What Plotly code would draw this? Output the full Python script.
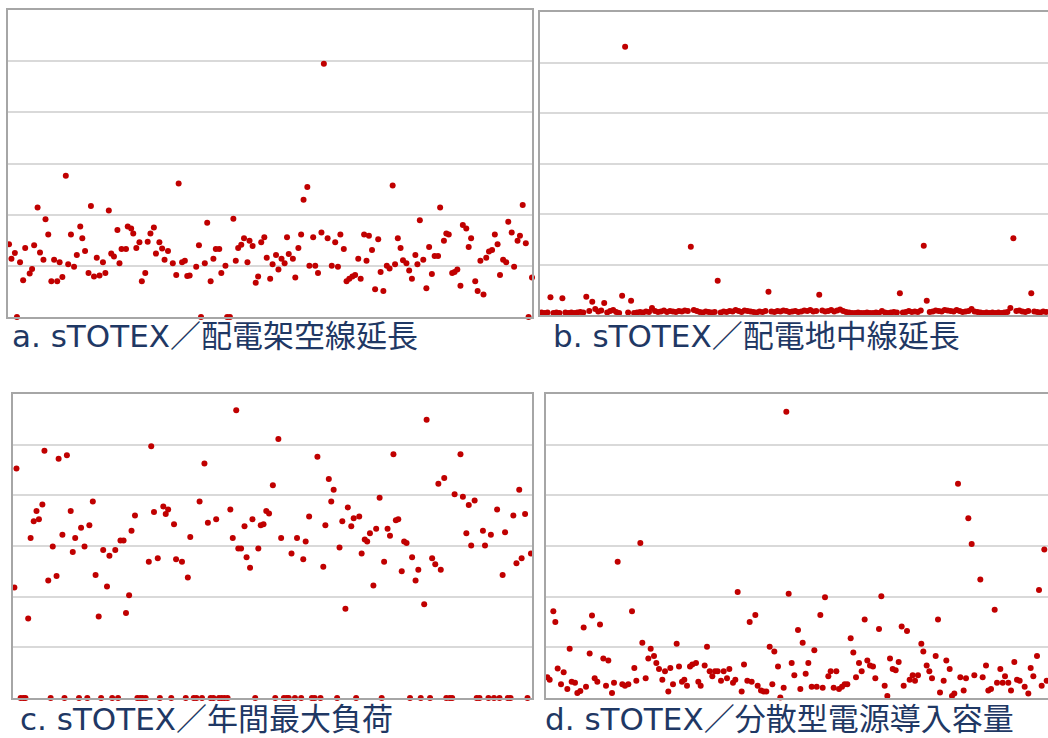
import plotly.graph_objects as go

# a. sTOTEX / 配電架空線延長
a_x = [0.3, 1.0, 2.0, 2.6, 3.5, 4.4, 5.0, 6.3, 7.0, 7.6, 8.6, 9.3, 10.3, 10.9, 11.7, 12.6, 13.4, 14.3, 15.0, 15.8,
       16.8, 17.5, 18.3, 19.2, 20.0, 21.0, 21.6, 22.4, 23.4, 24.1, 25.0, 25.8, 26.6, 27.6, 28.3, 29.3, 30.0, 30.8, 31.8, 32.4,
       33.0, 34.3, 34.8, 35.8, 36.4, 37.3, 38.2, 38.9, 39.9, 40.6, 41.4, 42.4, 43.0, 44.0, 44.8, 45.5, 46.5, 47.9, 48.9, 49.6,
       50.6, 51.4, 52.1, 52.8, 54.7, 55.5, 56.1, 57.2, 57.9, 58.9, 59.7, 60.4, 61.4, 62.0, 63.2, 63.7, 64.5, 65.5, 66.2, 66.9,
       67.8, 68.6, 69.6, 70.2, 71.1, 72.0, 72.7, 73.6, 74.5, 75.2, 76.2, 76.9, 77.9, 78.6, 79.5, 80.4, 81.1, 81.6, 82.8, 83.5,
       84.4, 85.2, 85.9, 87.0, 87.6, 88.7, 89.3, 90.1, 91.1, 91.8, 92.9, 94.1, 95.1, 95.9, 96.6, 97.6, 98.4, 99.2, 100.1, 100.9,
       101.8, 102.5, 103.5, 104.2, 104.9, 105.8, 106.7, 107.6, 108.3, 109.1, 110.1, 110.9, 111.8, 112.5, 113.3, 114.1, 114.8, 115.8, 116.6, 117.4,
       118.4, 119.0, 119.7, 120.7, 121.6, 122.4, 123.2, 124.0, 125.0, 125.6, 126.7, 127.4, 128.1, 129.1, 129.8, 130.6, 131.5, 132.2, 133.2, 133.9,
       134.6, 135.8, 136.5, 137.3, 138.2, 139.0, 139.8, 140.7, 141.5, 142.3, 143.0, 143.9, 144.8, 145.4, 146.4, 147.1, 148.1, 148.8, 149.6, 150.5,
       151.3, 152.3]
a_y = [1.42, 1.14, 1.25, 0, 1.07, 0.72, 1.35, 0.85, 0.94, 1.40, 2.14, 1.26, 1.12, 1.91, 1.61, 0.70, 1.12, 0.70, 1.07, 0.78,
       2.76, 1.03, 1.61, 0.98, 1.21, 1.77, 1.54, 1.29, 0.86, 2.17, 0.79, 1.16, 0.81, 1.07, 0.86, 2.08, 1.24, 1.18, 1.70, 1.05,
       1.33, 1.33, 1.77, 1.73, 1.63, 1.35, 1.46, 0.70, 0.86, 1.47, 1.63, 1.75, 1.24, 1.46, 1.34, 1.12, 1.29, 1.05, 0.82, 2.61,
       1.07, 1.10, 0.80, 0.81, 0.98, 1.40, 0, 1.05, 1.84, 0.70, 1.14, 1.33, 1.33, 0.86, 1.00, 0, 0, 1.92, 1.10, 1.35,
       1.41, 1.54, 1.07, 1.49, 1.39, 0.67, 0.79, 1.46, 1.56, 1.16, 0.75, 1.03, 1.21, 0.93, 1.14, 1.05, 1.56, 1.23, 1.14, 0.77,
       1.35, 1.61, 2.29, 2.54, 1.00, 1.56, 1.00, 0.86, 1.65, 4.95, 1.54, 1.00, 1.46, 0.98, 1.61, 1.33, 0.70, 0.75, 0.79, 0.82,
       1.14, 0.75, 1.61, 1.10, 1.59, 1.31, 0.54, 1.52, 0.88, 0.51, 1.00, 0.95, 2.57, 1.03, 1.54, 1.35, 1.11, 1.05, 0.91, 0.75,
       1.21, 1.03, 1.89, 1.12, 0.56, 1.37, 0.84, 1.19, 1.19, 2.14, 1.49, 1.63, 1.61, 0.86, 0.88, 0.93, 0.61, 1.80, 1.73, 1.37,
       1.54, 0.70, 0.51, 1.10, 0.44, 1.16, 1.28, 1.31, 1.61, 1.42, 0.82, 1.12, 1.07, 1.86, 1.65, 0.98, 1.49, 1.59, 2.19, 1.44,
       0, 0.77]

# b. sTOTEX / 配電地中線延長 (sample index 1..170)
b_y = [0.05, 0.04, 0.05, 0.35, 0.04, 0.05, 0.04, 0.33, 0.05, 0.04,
       0.05, 0.04, 0.05, 0.06, 0.05, 0.36, 0.08, 0.26, 0.12, 0.07,
       0.09, 0.24, 0.05, 0.08, 0.10, 0.06, 0.04, 0.38, 5.31, 0.05,
       0.28, 0.04, 0.05, 0.06, 0.05, 0.07, 0.06, 0.14, 0.08, 0.06,
       0.07, 0.09, 0.06, 0.08, 0.07, 0.06, 0.08, 0.07, 0.09, 0.08,
       1.35, 0.10, 0.08, 0.06, 0.05, 0.07, 0.06, 0.05, 0.06, 0.68,
       0.05, 0.07, 0.06, 0.08, 0.07, 0.10, 0.08, 0.06, 0.09, 0.08,
       0.07, 0.06, 0.05, 0.07, 0.06, 0.08, 0.46, 0.07, 0.06, 0.08,
       0.07, 0.09, 0.08, 0.06, 0.07, 0.08, 0.06, 0.07, 0.09, 0.08,
       0.10, 0.07, 0.08, 0.40, 0.09, 0.07, 0.08, 0.10, 0.07, 0.09,
       0.11, 0.08, 0.06, 0.05, 0.04, 0.04, 0.05, 0.04, 0.04, 0.05,
       0.04, 0.04, 0.05, 0.04, 0.08, 0.05, 0.04, 0.05, 0.06, 0.05,
       0.43, 0.05, 0.06, 0.08, 0.06, 0.07, 0.06, 0.09, 1.37, 0.28,
       0.06, 0.07, 0.09, 0.08, 0.07, 0.10, 0.09, 0.08, 0.07, 0.10,
       0.08, 0.06, 0.07, 0.08, 0.12, 0.07, 0.06, 0.05, 0.04, 0.05,
       0.04, 0.05, 0.04, 0.05, 0.04, 0.05, 0.06, 0.14, 1.52, 0.08,
       0.09, 0.07, 0.06, 0.08, 0.43, 0.07, 0.06, 0.05, 0.07, 0.06]
b_x = list(range(1, len(b_y) + 1))

# c. sTOTEX / 年間最大負荷
c_x = [0.4, 1.0, 2.2, 3.0, 3.6, 4.4, 5.1, 6.0, 6.8, 7.5, 8.5, 9.1, 10.2, 10.9, 11.5, 12.6, 13.2, 14.3, 14.9, 15.6,
       16.7, 17.3, 18.0, 19.1, 19.7, 20.7, 21.5, 22.1, 23.1, 23.9, 24.8, 25.5, 26.1, 27.2, 27.9, 28.7, 29.6, 30.4, 31.1, 32.0,
       32.7, 33.6, 34.3, 35.3, 36.0, 36.8, 37.5, 38.4, 39.3, 40.0, 40.8, 41.9, 42.5, 43.5, 44.2, 44.9, 45.8, 46.6, 47.2, 48.9,
       50.0, 50.6, 51.3, 52.3, 53.1, 54.0, 54.7, 55.4, 56.4, 57.2, 58.0, 58.8, 59.6, 60.4, 61.2, 62.1, 62.9, 63.6, 64.6, 65.2,
       66.0, 67.0, 67.6, 68.6, 69.3, 70.1, 71.0, 71.7, 72.5, 73.3, 74.1, 75.2, 75.9, 76.8, 77.6, 78.4, 79.2, 79.8, 80.6, 81.6,
       82.2, 83.4, 84.0, 84.7, 85.7, 86.5, 87.3, 88.1, 89.0, 89.8, 90.4, 91.4, 92.1, 92.8, 93.8, 94.5, 95.3, 96.2, 96.9, 97.9,
       98.6, 99.3, 100.2, 100.9, 101.8, 102.5, 103.3, 104.3, 105.1, 106.1, 106.7, 107.4, 108.4, 109.1, 110.1, 110.8, 111.5, 112.5, 113.2, 113.9,
       114.9, 115.5, 116.5, 117.3, 118.0, 119.0, 119.7, 120.7, 121.3, 122.2, 123.1, 123.8, 124.8, 125.4, 126.4, 127.1, 127.8, 129.5, 130.2, 131.2,
       131.9, 132.6, 133.6, 134.2, 135.0, 136.0, 136.6, 137.6, 138.3, 139.2, 140.1, 140.8, 141.7, 142.4, 143.2, 144.0, 144.8, 145.7, 146.5, 147.2,
       148.2, 148.9, 149.9]
c_y = [2.18, 4.53, 0, 0, 0, 1.57, 3.16, 3.49, 3.69, 3.53, 3.82, 4.88, 2.32, 0, 2.99, 2.41, 4.72, 3.22, 0, 4.79,
       3.69, 2.88, 3.16, 0, 3.36, 2.99, 0, 3.41, 3.88, 2.43, 1.61, 0, 2.92, 2.20, 2.81, 0, 2.92, 0, 3.11, 3.11,
       1.68, 2.03, 3.30, 3.60, 0, 0, 0, 0, 2.69, 4.97, 3.67, 2.76, 0, 3.78, 3.63, 3.72, 0, 3.43, 2.74, 2.69,
       0, 2.38, 3.18, 0, 0, 3.88, 0, 4.63, 3.46, 0, 0, 3.53, 0, 0, 0, 0, 3.72, 3.16, 5.68, 2.95,
       2.95, 3.39, 2.78, 2.57, 3.53, 0, 2.95, 3.41, 3.43, 3.69, 3.64, 4.20, 0, 5.11, 3.16, 0, 0, 0, 2.85, 0,
       3.16, 0, 2.74, 3.09, 3.58, 0, 0, 4.76, 0, 2.59, 3.41, 4.32, 3.88, 4.11, 0, 2.97, 3.49, 1.76, 3.76, 3.39,
       3.55, 0, 3.58, 2.85, 3.13, 3.09, 3.25, 2.22, 3.34, 3.95, 0, 2.69, 3.34, 3.20, 4.81, 3.51, 3.53, 2.50, 3.09, 3.06,
       0, 2.78, 2.32, 2.53, 0, 1.85, 5.49, 0, 2.76, 2.64, 4.23, 2.53, 4.34, 0, 0, 0, 4.02, 4.81, 3.97, 3.25,
       3.81, 3.01, 3.90, 0, 0, 3.30, 3.01, 0, 3.22, 0, 3.72, 0, 2.43, 3.27, 0, 0, 3.60, 2.66, 4.11, 2.76,
       3.63, 0, 2.85]

# d. sTOTEX / 分散型電源導入容量
d_x = [0.4, 1.1, 2.2, 2.8, 3.5, 4.5, 5.3, 6.4, 7.1, 7.7, 8.7, 9.4, 10.3, 11.3, 12.0, 13.1, 13.8, 14.6, 15.4, 16.2,
       17.2, 18.0, 18.7, 19.8, 20.4, 21.5, 22.9, 23.7, 24.7, 25.8, 26.5, 27.1, 28.3, 28.9, 29.9, 30.7, 31.4, 32.4, 33.1, 33.9,
       34.9, 35.7, 36.7, 37.3, 38.1, 39.2, 39.9, 40.8, 41.5, 42.3, 43.2, 43.9, 45.0, 45.7, 46.4, 47.6, 48.3, 49.1, 49.9, 50.7,
       51.5, 52.5, 53.3, 54.3, 55.0, 56.1, 56.8, 57.5, 58.7, 59.4, 60.4, 61.1, 61.7, 62.8, 63.5, 64.5, 65.3, 66.1, 67.1, 67.9,
       68.5, 69.6, 70.3, 71.3, 72.1, 72.8, 73.7, 74.5, 75.6, 76.3, 77.0, 77.9, 78.7, 79.7, 80.5, 81.2, 82.3, 83.0, 83.7, 84.7,
       85.4, 86.3, 87.1, 87.9, 88.8, 89.6, 90.4, 91.4, 92.2, 93.0, 93.9, 94.7, 95.6, 96.4, 97.2, 98.1, 98.8, 99.9, 100.6, 101.6,
       102.4, 103.2, 104.0, 104.9, 105.8, 106.7, 107.3, 108.3, 109.1, 110.0, 110.7, 111.6, 112.6, 113.2, 114.2, 115.0, 115.8, 116.9, 117.6, 118.2,
       119.3, 120.1, 121.1, 121.8, 122.5, 123.6, 124.3, 125.3, 126.0, 126.7, 127.7, 128.5, 130.3, 131.0, 132.0, 132.7, 133.5, 134.6, 135.3, 136.3,
       137.0, 137.7, 138.7, 139.5, 140.5, 141.3, 142.1, 143.6, 144.7, 145.4, 146.2, 147.3, 147.9, 148.7, 149.5, 150.2]
d_y = [0.41, 0.36, 1.71, 1.50, 0.58, 0.27, 0.51, 0.18, 0.97, 0.32, 0.30, 0.10, 0.14, 1.39, 0.22, 0.88, 1.63, 0.39, 0.32, 1.45,
       0.78, 0.24, 0.74, 0.10, 0.30, 2.69, 0.27, 0.24, 0.27, 1.71, 0.59, 0.34, 3.06, 1.09, 0.39, 0.78, 0.97, 0.83, 0.69, 0.57,
       0.36, 0.53, 0.13, 0.59, 0.27, 1.07, 0.62, 0.32, 0.36, 0.24, 0.62, 0.66, 0.69, 0.32, 0.24, 0.64, 1.01, 0.53, 0.43, 0.53,
       0.53, 0.34, 0.53, 0.39, 0.57, 0.30, 0.36, 2.09, 0.13, 0.66, 0.34, 1.50, 0.32, 1.64, 0.24, 0.15, 0.13, 0.13, 1.01, 0.27,
       0.92, 0.62, 0.01, 0.20, 5.65, 2.06, 0.69, 0.45, 1.34, 0.18, 1.09, 0.48, 0.69, 0.22, 0.94, 0.22, 1.64, 0.20, 1.99, 0.43,
       0.53, 0.20, 0.53, 0.18, 0.22, 0.27, 0.27, 1.18, 0.90, 0.41, 0.69, 0.53, 1.55, 0.74, 0.64, 0.62, 0.39, 1.36, 2.01, 0.24,
       0.04, 0.78, 0.57, 0.55, 0.71, 1.41, 0.24, 1.32, 0.36, 0.45, 0.34, 0.45, 1.07, 0.92, 0.64, 0.53, 0.39, 0.83, 1.55, 0.11,
       0.34, 0.74, 0.57, 0.04, 0.09, 4.23, 0.41, 0.15, 0.39, 3.55, 3.04, 0.45, 2.34, 0.41, 0.64, 0.15, 0.18, 1.74, 0.30, 0.57,
       0.30, 0.43, 0.30, 0.15, 0.71, 0.36, 0.34, 0.22, 0.09, 0.59, 0.43, 0.83, 2.13, 0.24, 2.93, 0.34]

captions = [
    "a. sTOTEX／配電架空線延長",
    "b. sTOTEX／配電地中線延長",
    "c. sTOTEX／年間最大負荷",
    "d. sTOTEX／分散型電源導入容量",
]

W, H = 1048, 738
RED = "#C00000"
FRAME = "#A6A6A6"
GRID = "#D9D9D9"
NAVY = "#1F3864"


def px_x(p):
    return p / W


def px_y(p):
    return 1 - p / H


# plot-area boxes (left, right, top, bottom) in pixels; b and d run off the right edge
boxes = [
    (8, 532, 10, 317),
    (540, 1048, 12, 315),
    (13, 532, 394, 698),
    (546, 1048, 394, 698),
]
x_ranges = [[0, 152.3], [0.5, 170.6], [0, 150.2], [0, 150.6]]
closed_right = [True, False, True, False]
series = [(a_x, a_y), (b_x, b_y), (c_x, c_y), (d_x, d_y)]

fig = go.Figure()
layout = dict(
    width=W, height=H,
    margin=dict(l=0, r=0, t=0, b=0),
    paper_bgcolor="white", plot_bgcolor="white",
    showlegend=False,
)

for i, ((xs, ys), (l, r, t, b), xr, closed) in enumerate(zip(series, boxes, x_ranges, closed_right)):
    k = "" if i == 0 else str(i + 1)
    fig.add_trace(go.Scatter(
        x=xs, y=ys, mode="markers",
        marker=dict(color=RED, size=6, line=dict(width=0)),
        xaxis="x" + k, yaxis="y" + k, cliponaxis=False,
        hoverinfo="skip",
    ))
    layout["xaxis" + k] = dict(
        domain=[px_x(l), px_x(r)], range=xr, anchor="y" + k,
        showgrid=False, zeroline=False, showticklabels=False, ticks="",
        showline=True, linecolor=FRAME, linewidth=2, mirror=True,
    )
    layout["yaxis" + k] = dict(
        domain=[px_y(b), px_y(t)], range=[0, 6], anchor="x" + k,
        dtick=1, showgrid=True, gridcolor=GRID, gridwidth=2,
        zeroline=False, showticklabels=False, ticks="",
        showline=True, linecolor=FRAME, linewidth=2, mirror=closed,
    )

cap_pos = [(10, 336), (551, 336), (18, 719), (543, 719)]
annotations = []
for text, (cx, cy) in zip(captions, cap_pos):
    annotations.append(dict(
        text=text, xref="paper", yref="paper",
        x=px_x(cx), y=px_y(cy), xanchor="left", yanchor="middle",
        showarrow=False,
        font=dict(family="DejaVu Sans, 'Noto Sans CJK JP'", size=31, color=NAVY),
    ))
layout["annotations"] = annotations

fig.update_layout(**layout)
fig.write_html("out.html")
